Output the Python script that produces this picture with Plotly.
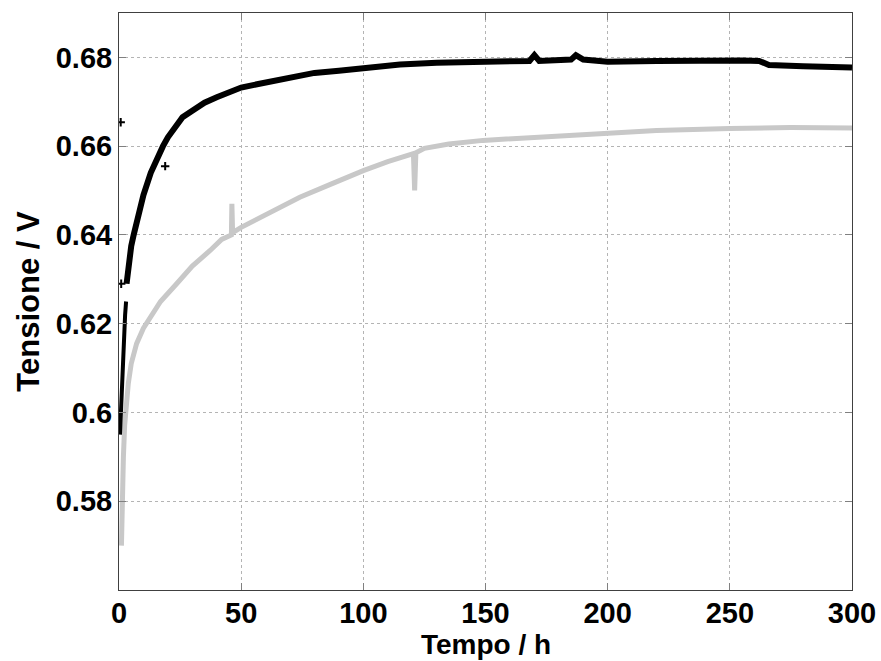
import plotly.graph_objects as go

# Black series (initial segment, then main curve)
black_t0 = [0.4, 0.6, 0.9, 1.3, 1.9, 2.5, 2.9]
black_v0 = [0.595, 0.598, 0.603, 0.609, 0.616, 0.622, 0.625]

black_t = [3.1, 4, 5, 6, 8, 10, 13, 16, 18, 20, 23, 26, 30, 35, 40, 45, 50, 57, 65, 72,
           80, 90, 100, 115, 130, 150, 168, 170, 172, 185, 187, 190, 200, 220, 240, 255,
           262, 266, 280, 300]
black_v = [0.629, 0.634, 0.6375, 0.640, 0.645, 0.649, 0.654, 0.658, 0.660, 0.662, 0.6645,
           0.6665, 0.668, 0.6698, 0.671, 0.672, 0.6732, 0.674, 0.6748, 0.6758, 0.6765,
           0.677, 0.6775, 0.6784, 0.6788, 0.6791, 0.6792, 0.6805, 0.6792, 0.6795, 0.6805,
           0.6795, 0.679, 0.6792, 0.6794, 0.6793, 0.6792, 0.6783, 0.678, 0.6777]

black_out_t = [0.7, 0.9, 18.9]
black_out_v = [0.6654, 0.629, 0.6555]

# Gray series
gray_t = [1.0, 1.2, 1.5, 1.8, 2.3, 3, 3.8, 5, 7.2, 10, 12.7, 17, 23.6, 30, 37.3, 42, 46,
          46.2, 46.5, 50, 60, 74, 87, 100, 110, 120.5, 121, 121.5, 125, 135, 149, 170,
          200, 220, 250, 275, 300]
gray_v = [0.570, 0.578, 0.585, 0.590, 0.597, 0.602, 0.6065, 0.611, 0.6155, 0.619, 0.6214,
          0.625, 0.629, 0.633, 0.6365, 0.639, 0.640, 0.647, 0.6405, 0.6417, 0.6445, 0.6485,
          0.6515, 0.6545, 0.6565, 0.6583, 0.650, 0.6585, 0.6595, 0.6605, 0.6613, 0.662,
          0.6628, 0.6635, 0.664, 0.6642, 0.6641]

x_ticks = [0, 50, 100, 150, 200, 250, 300]
y_ticks = [0.58, 0.60, 0.62, 0.64, 0.66, 0.68]
y_tick_labels = ["0.58", "0.6", "0.62", "0.64", "0.66", "0.68"]

GRAY = "#c8c8c8"
fig = go.Figure()
fig.add_trace(go.Scatter(x=gray_t, y=gray_v, mode="lines",
                         line=dict(color=GRAY, width=5), showlegend=False))
fig.add_trace(go.Scatter(x=black_t0, y=black_v0, mode="lines",
                         line=dict(color="black", width=4), showlegend=False))
fig.add_trace(go.Scatter(x=black_t, y=black_v, mode="lines",
                         line=dict(color="black", width=6), showlegend=False))
fig.add_trace(go.Scatter(x=black_out_t, y=black_out_v, mode="markers",
                         marker=dict(color="black", size=6, symbol="cross-thin",
                                     line=dict(color="black", width=2)),
                         showlegend=False))

font_family = "Liberation Sans, Arial, sans-serif"
axis_common = dict(
    showline=True, linecolor="#404040", linewidth=1, mirror="allticks",
    ticks="inside", ticklen=7, tickcolor="#808080", tickwidth=1,
    showgrid=True, gridcolor="#b4b4b4", griddash="dot", gridwidth=1,
    zeroline=False, automargin=False,
    tickfont=dict(family=font_family, size=29, color="black", weight="bold"),
)
fig.update_xaxes(range=[0, 300], tickvals=x_ticks, ticklabelstandoff=-3, **axis_common)
fig.update_yaxes(range=[0.56, 0.69], tickvals=y_ticks, ticktext=y_tick_labels,
                 title=dict(text="<b>Tensione / V</b>", standoff=6,
                            font=dict(family=font_family, size=31, color="black")),
                 **axis_common)
fig.add_annotation(text="<b>Tempo / h</b>", xref="paper", yref="paper",
                   x=0.5, y=-0.1228, xanchor="center", yanchor="bottom",
                   showarrow=False, borderpad=0,
                   font=dict(family=font_family, size=28, color="black"))
fig.update_layout(width=881, height=661, margin=dict(l=119, r=29, t=13, b=71),
                  plot_bgcolor="white", paper_bgcolor="white")
fig.write_html("out.html")
